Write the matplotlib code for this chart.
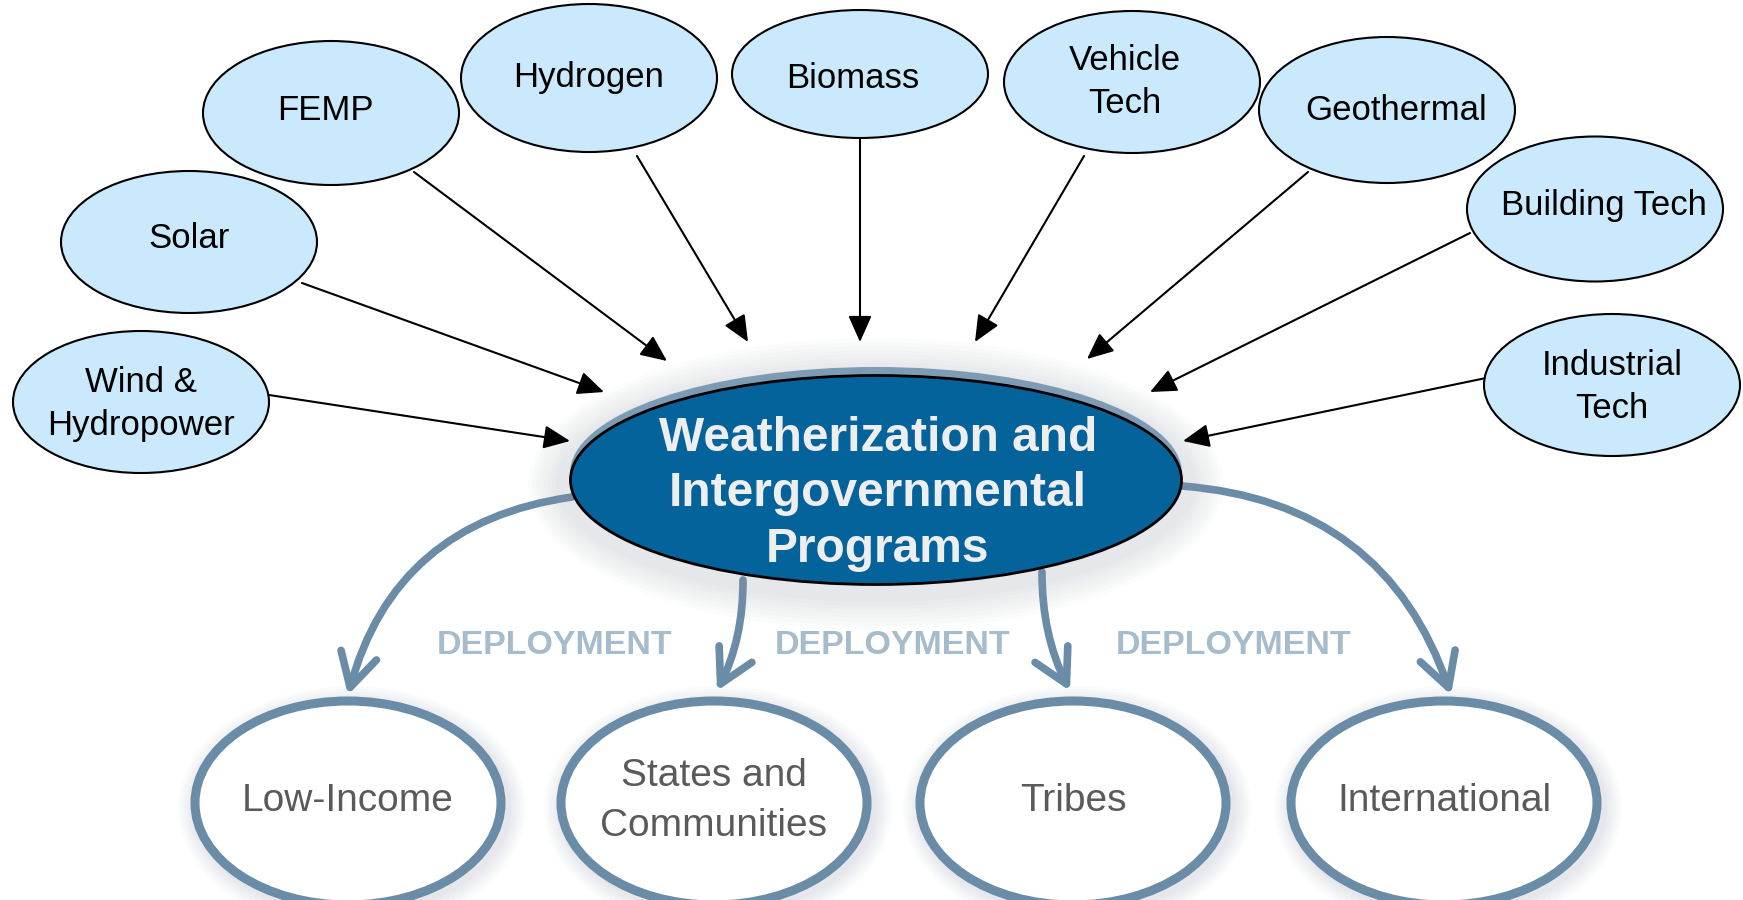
import matplotlib
matplotlib.use("Agg")
import matplotlib.pyplot as plt
from matplotlib.patches import Ellipse, FancyArrowPatch

# ---------------------------------------------------------------------------
# Diagram content
# ---------------------------------------------------------------------------

source_labels = ["Wind &\nHydropower", "Solar", "FEMP", "Hydrogen", "Biomass",
                 "Vehicle\nTech", "Geothermal", "Building Tech", "Industrial\nTech"]
hub_label = "Weatherization and\nIntergovernmental\nPrograms"
target_labels = ["Low-Income", "States and\nCommunities", "Tribes", "International"]
flow_label = "DEPLOYMENT"

# layout (pixel coordinates, y down)
source_xy = [(141, 402), (189, 242), (331, 113), (589, 78), (860, 74),
             (1132, 82), (1387, 110), (1595, 209), (1612, 385)]
source_text_xy = [(141, 404), (189, 238), (325, 110), (589, 78), (853, 78),
                  (1125, 82), (1396, 110), (1604, 206), (1612, 387)]
source_h = [142, 142, 144, 148, 128, 142, 146, 145, 142]
arrow_from = [(269, 395), (302, 283), (414, 172), (637, 156), (860, 139),
              (1084, 156), (1308, 172), (1470, 233), (1486, 378)]
arrow_to = [(570, 441), (604, 392), (667, 361), (748, 342), (860, 342),
            (975, 342), (1087, 359), (1150, 392), (1183, 441)]

hub_xy = (876, 480)
target_x = [348, 714, 1073, 1444]
curve_from = [(572, 497), (743, 580), (1042, 572), (1182, 486)]
curve_to = [(348, 695), (717, 691), (1070, 691), (1451, 695)]
curve_rad = [0.33, -0.12, 0.12, -0.33]
flow_x = [555, 893, 1234]

steel = "#6a8ca6"

fig = plt.figure(figsize=(17.43, 9.0), dpi=100)
ax = fig.add_axes([0, 0, 1, 1])
ax.set_xlim(0, 1743)
ax.set_ylim(900, 0)
ax.axis("off")

# bottom ellipses with a soft shadow
for x, lab in zip(target_x, target_labels):
    for k in range(6):
        ax.add_patch(Ellipse((x + 4, 808), 318 + 6 * k, 214 + 6 * k,
                             facecolor="#8a95a8", edgecolor="none",
                             alpha=0.035, zorder=1))
    ax.add_patch(Ellipse((x, 803), 306, 204, facecolor="white",
                         edgecolor=steel, lw=6.5, zorder=2))
    ax.text(x, 801, lab, ha="center", va="center", fontsize=28,
            color="#5a5a5a", linespacing=1.5,
            family="Liberation Sans", zorder=3)

# curved deployment arrows
for p0, p1, r in zip(curve_from, curve_to, curve_rad):
    ax.add_patch(FancyArrowPatch(p0, p1, connectionstyle=f"arc3,rad={r}",
                                 arrowstyle="->,head_length=0.6,head_width=0.33",
                                 mutation_scale=40, color=steel, lw=5.5,
                                 shrinkA=0, shrinkB=0, zorder=2,
                                 capstyle="round", joinstyle="round"))

for x in flow_x:
    ax.text(x, 646, flow_label, ha="center", va="center", fontsize=24.5,
            fontweight="bold", color="#a6bccc", family="Liberation Sans",
            zorder=3)

# hub ellipse with shadow band
for k in range(8):
    ax.add_patch(Ellipse((hub_xy[0], hub_xy[1] + 4), 640 + 8 * k, 236 + 8 * k,
                         facecolor="#9aa4b4", edgecolor="none", alpha=0.03,
                         zorder=3))
ax.add_patch(Ellipse((hub_xy[0], hub_xy[1] - 7), 612, 212,
                     facecolor="#7d9cb4", edgecolor="none", zorder=4))
ax.add_patch(Ellipse(hub_xy, 611, 209, facecolor="#05639c",
                     edgecolor="black", lw=2, zorder=5))
ax.text(hub_xy[0] + 2, hub_xy[1] + 14, hub_label, ha="center", va="center",
        fontsize=34.5, fontweight="bold", color="#eeeeee", linespacing=1.3,
        family="Liberation Sans", zorder=6)

# source ellipses and arrows
for (x, y), (tx, ty), h, lab in zip(source_xy, source_text_xy, source_h,
                                    source_labels):
    ax.add_patch(Ellipse((x, y), 256, h, facecolor="#cbe9fc",
                         edgecolor="black", lw=1.5, zorder=7))
    ax.text(tx, ty, lab, ha="center", va="center", fontsize=25,
            color="black", linespacing=1.4, family="Liberation Sans",
            zorder=8)

for p0, p1 in zip(arrow_from, arrow_to):
    ax.add_patch(FancyArrowPatch(p0, p1, arrowstyle="-|>,head_length=0.9,head_width=0.4",
                                 mutation_scale=18, color="black", lw=1.5,
                                 shrinkA=0, shrinkB=0, zorder=6))

fig.savefig("out.png", dpi=100, facecolor="white")
